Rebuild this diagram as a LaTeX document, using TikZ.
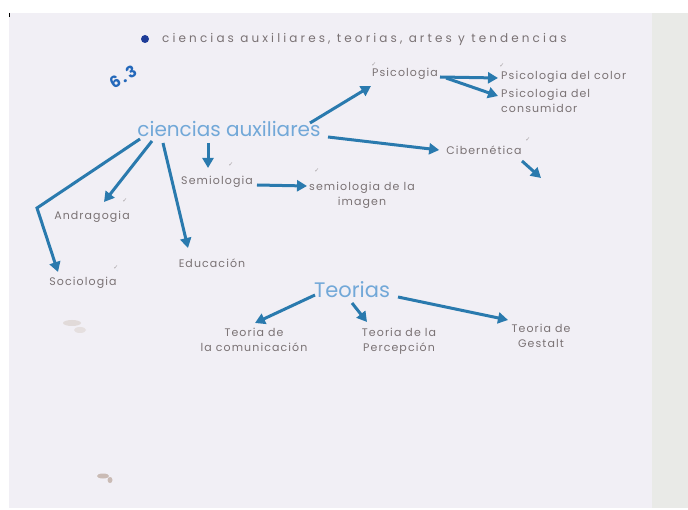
\documentclass[tikz,border=0pt]{standalone}
\usepackage{fontspec}
\newfontfamily\hand[LetterSpace=10]{Poppins}
\newfontfamily\handn{Poppins}
\newfontfamily\symf{DejaVu Sans}
\usetikzlibrary{arrows.meta,calc}
\definecolor{paper}{HTML}{F1EFF5}
\definecolor{strip}{HTML}{E9EAE7}
\definecolor{ink}{HTML}{2A7AAE}
\definecolor{lbl}{HTML}{7A7274}
\definecolor{head}{HTML}{72A8D8}
\definecolor{navy}{HTML}{1E3C98}
\definecolor{stain}{HTML}{9C8070}
\tikzset{
  lab/.style={text=lbl, inner sep=1pt, font=\hand\fontsize{11}{15}\selectfont, align=center},
  big/.style={text=head, inner sep=1pt},
  arr/.style={draw=ink, line width=3pt, -{Triangle[length=10pt,width=11pt]}},
  tick/.style={text=lbl!70, inner sep=0pt, font=\symf\fontsize{6}{6}\selectfont}
}
\begin{document}
\begin{tikzpicture}[x=1pt,y=-1pt]
\useasboundingbox (0,0) rectangle (688,510);
\fill[white] (0,0) rectangle (688,510);
\fill[paper] (9,13) rectangle (652,508);
\fill[strip] (652,13) rectangle (688,508);
\draw[black, line width=1.2pt] (9.5,13) -- (9.5,17);

% title
\fill[navy] (145,39) circle (4pt);
\node[text=lbl, inner sep=0pt, anchor=west, font=\handn\fontsize{12}{13}\selectfont\addfontfeature{LetterSpace=26}] (title) at (162,39) {ciencias auxiliares, teorias, artes y tendencias};

\node[text=ink!85!blue, rotate=30, inner sep=0pt, font=\handn\bfseries\fontsize{16}{18}\selectfont\addfontfeature{LetterSpace=12}] (num) at (123,77) {6.3};

% main nodes
\node[big, font=\handn\fontsize{20}{22}\selectfont] (cien) at (229,129) {ciencias auxiliares};
\node[lab] (psi) at (405,74) {Psicologia};
\node[lab, anchor=west] (color) at (500,77) {Psicologia del color};
\node[lab, anchor=north west, align=left] (cons) at (500,88) {Psicologia del\\consumidor};
\node[lab] (ciber) at (484,150) {Cibernética};
\coordinate (faint) at (541,178);
\node[lab] (semi) at (217,182) {Semiologia};
\node[lab] (simg) at (362,195) {semiologia de la\\imagen};
\node[lab] (andra) at (92,217) {Andragogia};
\node[lab] (educ) at (212,263) {Educación};
\node[lab] (socio) at (83,283) {Sociologia};

\node[big, font=\handn\fontsize{21}{23}\selectfont] (teo) at (352,290) {Teorias};
\node[lab] (tcom) at (254,340) {Teoria de\\la comunicación};
\node[lab] (tper) at (399,341) {Teoria de la\\Percepción};
\node[lab] (tges) at (541,336) {Teoria de\\Gestalt};

% checks
\node[tick] at (374,65) {✓};
\node[tick] at (502,66) {✓};
\node[tick] at (528,140) {✓};
\node[tick] at (231,165) {✓};
\node[tick] at (317,171) {✓};
\node[tick] at (125,201) {✓};
\node[tick] at (116,268) {✓};

% arrows
\draw[arr] ($(cien)+(81,-6)$) -- ($(psi)+(-34,12)$);
\draw[arr] ($(psi)+(35,3)$) -- ($(color.west)+(-2,1)$);
\draw[arr] ($(psi)+(41,4)$) -- ($(cons.north west)+(-2,8)$);
\draw[arr] ($(cien)+(99,8)$) -- ($(ciber.west)+(-6,0)$);
\draw[arr] ($(ciber)+(38,11)$) -- (faint);
\draw[arr] ($(cien)+(-21,14)$) -- ($(semi)+(-9,-14)$);
\draw[arr] ($(semi.east)+(3,3)$) -- ($(simg.west)+(-1,-9)$);
\draw[arr] ($(cien)+(-77,12)$) -- ($(andra)+(12,-15)$);
\draw[arr] ($(cien)+(-66,14)$) -- ($(educ)+(-24,-15)$);
\draw[arr] ($(cien)+(-89,10)$) -- (37,208) -- ($(socio)+(-25,-11)$);
\draw[arr] ($(teo)+(-37,5)$) -- ($(tcom)+(1,-17)$);
\draw[arr] ($(teo)+(0,13)$) -- ($(tper)+(-32,-19)$);
\draw[arr] ($(teo)+(46,7)$) -- ($(tges)+(-33,-16)$);

% stains
\fill[stain!45, opacity=0.5] (72,323) ellipse (9pt and 3pt);
\fill[stain!40, opacity=0.45] (80,330) ellipse (6pt and 3pt);
\fill[stain!70, opacity=0.7] (103,476) ellipse (6pt and 2.5pt);
\fill[stain!70, opacity=0.7] (110,480) ellipse (2.5pt and 3pt);
\end{tikzpicture}
\end{document}
